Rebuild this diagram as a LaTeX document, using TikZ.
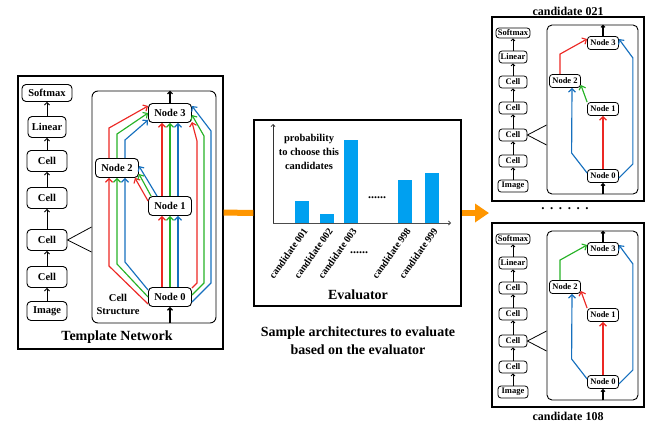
\documentclass[tikz,border=0pt]{standalone}
\usepackage{fontspec}
\setmainfont{Liberation Serif}
\usetikzlibrary{arrows.meta}
\definecolor{edgered}{RGB}{236,40,36}
\definecolor{edgegreen}{RGB}{38,178,38}
\definecolor{edgeblue}{RGB}{22,112,190}
\definecolor{barblue}{RGB}{0,160,240}
\definecolor{flow}{RGB}{255,150,0}

% one sampled architecture, outer box at (492,17)--(644,201)
\newcommand*{\candnet}[1]{%
\node[panel, minimum width=152pt, minimum height=184pt] (#1box) at (568,109) {};
\node[cellframe, rounded corners=5pt, minimum width=91pt, minimum height=169pt] (#1in) at (592.5,109.5) {};
\node[snode, minimum width=34pt, minimum height=10pt] (#1soft) at (513,33) {Softmax};
\node[snode] (#1lin) at (513,57) {Linear};
\node[snode] (#1c4) at (513,82) {Cell};
\node[snode] (#1c3) at (513,108) {Cell};
\node[snode] (#1c2) at (513,135) {Cell};
\node[snode] (#1c1) at (513,161) {Cell};
\node[snode, minimum width=30pt] (#1img) at (513,186) {Image};
\foreach \a/\b in {img/c1, c1/c2, c2/c3, c3/c4, c4/lin, lin/soft}
  \draw[sarrow] (#1\a) -- (#1\b);
\draw[thin line] (#1in.west |- 0,125) -- (#1c2.east) -- (#1in.west |- 0,145);
\node[sop] (#1n3) at (603,43) {Node 3};
\node[sop] (#1n2) at (565,81) {Node 2};
\node[sop] (#1n1) at (603,109) {Node 1};
\node[sop] (#1n0) at (603,176) {Node 0};
\draw[sarrow, line width=1.1pt] (#1n3) -- (#1n3 |- #1in.north);
\draw[sarrow, line width=1.1pt] (#1n0 |- #1in.south) -- (#1n0);
\draw[sedge, edgered] (#1n0) -- (#1n1);
\draw[sedge, edgeblue] ([yshift=3pt]#1n0.west) -- ++(-15.5,-20) -- ([xshift=7pt]#1n2.south);
\draw[sedge, edgeblue] ([yshift=-2pt]#1n0.east) -- ++(14,-14) -- ++(0,-106) -- ([yshift=4pt]#1n3.east);
}

\begin{document}
\begin{tikzpicture}[x=1pt, y=-1pt,
  panel/.style={draw, line width=1.2pt, inner sep=0pt},
  cellframe/.style={draw, line width=0.9pt, rounded corners=6pt, inner sep=0pt},
  thin line/.style={line width=0.8pt},
  tnode/.style={draw, line width=0.9pt, rounded corners=4pt, inner sep=2pt,
    minimum width=40pt, minimum height=21pt, font=\fontsize{10.5}{12}\selectfont\bfseries},
  top/.style={tnode, minimum width=43pt, minimum height=19pt},
  snode/.style={draw, line width=0.8pt, rounded corners=3pt, inner sep=1.5pt,
    minimum width=28pt, minimum height=12pt, font=\fontsize{8.5}{10}\selectfont\bfseries},
  sop/.style={snode, minimum width=31pt, minimum height=13pt},
  tarrow/.style={line width=0.9pt, -{Straight Barb[length=2.5pt, width=5pt]}},
  sarrow/.style={line width=0.8pt, -{Straight Barb[length=2pt, width=4pt]}},
  tedge/.style={line width=1.15pt, -{Straight Barb[length=3.5pt, width=7pt]}},
  sedge/.style={line width=1.15pt, -{Straight Barb[length=3.5pt, width=7pt]}},
  flowline/.style={flow, line width=6pt},
  title/.style={font=\fontsize{14}{18}\selectfont\bfseries, align=center},
  small/.style={font=\fontsize{10.5}{14}\selectfont\bfseries, align=center},
  candlab/.style={font=\fontsize{10}{12}\selectfont\bfseries, rotate=55, anchor=east, inner sep=1pt}]

\useasboundingbox (0,0) rectangle (647,423);

%% template network
\node[panel, minimum width=205pt, minimum height=273pt] (tpl) at (120.5,212.5) {};
\node[title] (tpltitle) at (117,337) {Template Network};
\node[tnode, minimum width=50pt, minimum height=17pt] (soft) at (47,93) {Softmax};
\node[tnode, minimum width=38pt] (lin) at (47,127) {Linear};
\node[tnode] (c4) at (47,161) {Cell};
\node[tnode] (c3) at (47,198) {Cell};
\node[tnode] (c2) at (47,240) {Cell};
\node[tnode] (c1) at (47,277) {Cell};
\node[tnode, minimum height=19pt] (img) at (47,311) {Image};
\foreach \a/\b in {img/c1, c1/c2, c2/c3, c3/c4, c4/lin, lin/soft}
  \draw[tarrow] (\a) -- (\b);

\node[cellframe, minimum width=124pt, minimum height=232pt] (cs) at (154,207) {};
\draw[thin line] (cs.west |- 0,227) -- (c2.east) -- (cs.west |- 0,252);
\node[small, font=\fontsize{10.5}{13}\selectfont\bfseries] (cslabel) at (118,304) {Cell\\Structure};

\node[top] (n3) at (170,113) {Node 3};
\node[top] (n2) at (117,168) {Node 2};
\node[top] (n1) at (170,206) {Node 1};
\node[top] (n0) at (170,297) {Node 0};
\draw[tarrow, line width=1.2pt] (n3) -- (n3 |- cs.north);
\draw[tarrow, line width=1.2pt] (n0 |- cs.south) -- (n0);

% straight up: 0 -> 1 and 1 -> 3
\foreach \c/\dx in {edgered/-8, edgegreen/0, edgeblue/8} {
  \draw[tedge, \c] ([xshift=\dx pt]n0.north) -- ([xshift=\dx pt]n1.south);
  \draw[tedge, \c] ([xshift=\dx pt]n1.north) -- ([xshift=\dx pt]n3.south);
}
% 0 -> 2 on the left
\foreach \c/\dx/\sy/\by in {edgered/-8/-7/266, edgegreen/0/0/264, edgeblue/8/7/262}
  \draw[tedge, \c] ([yshift=\sy pt]n0.west) -- ([xshift=\dx pt]n2.south |- 0,\by) -- ([xshift=\dx pt]n2.south);
% 2 -> 3
\foreach \c/\dx/\by/\sy in {edgered/-8/128/7, edgegreen/0/134/0, edgeblue/8/140/-7}
  \draw[tedge, \c] ([xshift=\dx pt]n2.north) -- ([xshift=\dx pt]n2.north |- 0,\by) -- ([yshift=\sy pt]n3.west);
% 1 -> 2
\draw[tedge, edgered] ([yshift=5pt]n1.west) -- ([xshift=-4pt]n2.south east);
\draw[tedge, edgegreen] ([xshift=3pt]n1.north west) -- ([yshift=4pt]n2.south east);
\draw[tedge, edgeblue] ([xshift=9pt]n1.north west) -- ([yshift=2pt]n2.east);
% 0 -> 3 on the right
\foreach \c/\sy/\bx/\ty/\ey in {edgered/9/197/141/-9, edgegreen/2/204/136/-2, edgeblue/-5/211/131/7}
  \draw[tedge, \c] ([yshift=\sy pt]n0.east) -- (\bx,283) -- (\bx,\ty) -- ([yshift=\ey pt]n3.east);

%% evaluator
\node[panel, minimum width=207pt, minimum height=186pt] (eval) at (357.5,213) {};
\node[title] (evaltitle) at (358,295) {Evaluator};
\coordinate (origin) at (273,223);
\draw[line width=0.8pt, black!80, -{Straight Barb[length=2pt, width=4pt]}] (origin) -- ++(0,-99);
\draw[line width=0.8pt, black!70, -{Straight Barb[length=2pt, width=4pt]}] (origin) -- ++(178,0);
\foreach \i/\x/\h/\lab in {1/302/201/001, 2/327/214/002, 3/351/140/003, 4/405/180/998, 5/432/173/999} {
  \fill[barblue] (\x-7,223) rectangle (\x+7,\h);
  \node[candlab] (lab\i) at (\x+4,228) {candidate \lab};
}
\node[small] (prob) at (309,152) {probability\\to choose this\\candidates};
\node[small, font=\fontsize{12}{14}\selectfont\bfseries] (bardots) at (377,198) {......};
\node[small, font=\fontsize{12}{14}\selectfont\bfseries] (labdots) at (359,253) {......};
\node[title] (caption) at (358,341) {Sample architectures to evaluate\\based on the evaluator};

%% flow
\coordinate (pick) at (489,213);
\draw[flowline] (tpl) -- (eval);
\draw[flowline, -{Triangle[length=14pt, width=18pt]}] (eval) -- (pick);

%% candidates
\candnet{a}
\draw[sedge, edgered] ([xshift=-5pt]an2.north) -- ++(0,-20) -- ([yshift=4pt]an3.west);
\draw[sedge, edgegreen] (an1.north west) -- ([yshift=-4pt]an2.east);
\node[title, font=\fontsize{12}{14}\selectfont\bfseries] (cand1) at (568,11) {candidate 021};

\node[title, font=\fontsize{13}{14}\selectfont\bfseries] (moredots) at (565,209) {.\kern5.6pt.\kern5.6pt.\kern5.6pt.\kern5.6pt.\kern5.6pt.};

\begin{scope}[yshift=-206pt]
\candnet{b}
\draw[sedge, edgegreen] ([xshift=-5pt]bn2.north) -- ++(0,-20) -- ([yshift=4pt]bn3.west);
\draw[sedge, edgered] (bn1.north west) -- ([yshift=-4pt]bn2.east);
\node[title, font=\fontsize{12}{14}\selectfont\bfseries] (cand2) at (568,210) {candidate 108};
\end{scope}
\end{tikzpicture}
\end{document}
